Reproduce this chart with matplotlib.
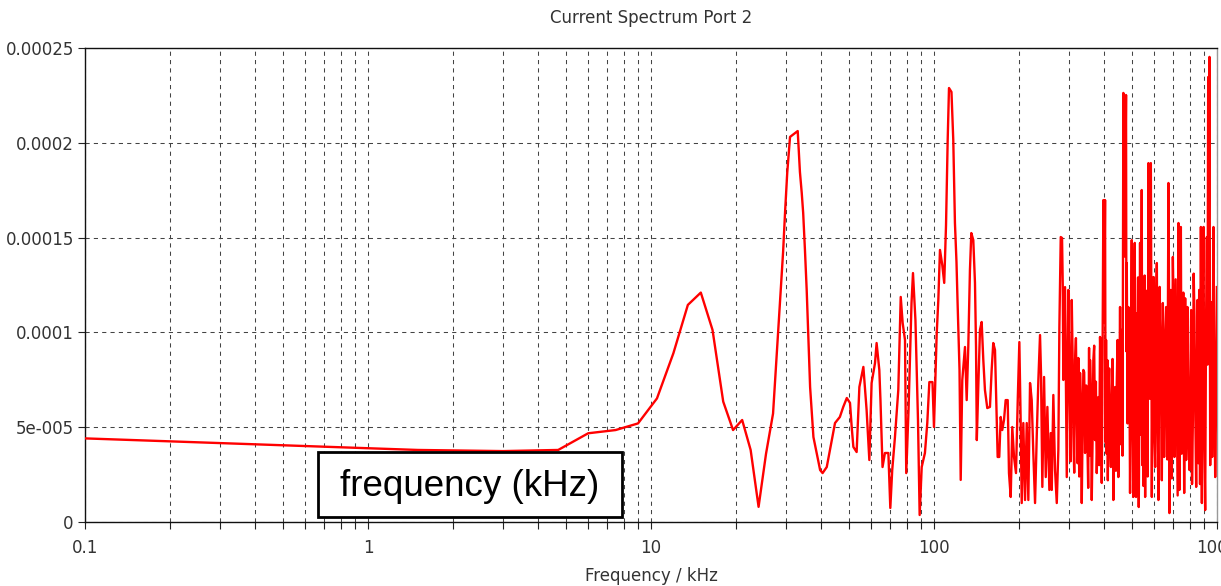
import numpy as np
import matplotlib.pyplot as plt
from matplotlib.patches import Rectangle
from matplotlib.ticker import FixedLocator, FixedFormatter, LogLocator, NullFormatter, NullLocator

# frequency in kHz, current amplitude in units of 1e-5
freq_low = [0.1, 1.0, 1.5, 3.0, 4.7, 6.0, 7.5, 9.0, 10.5, 12.0,
            13.5, 15.0, 16.5, 18.0, 19.5, 21.0, 22.5, 24.0, 25.5, 27.0,
            28.6, 29.3, 29.8, 30.3, 31.0, 33.0, 33.6, 34.1, 34.5, 35.0,
            35.5, 36.0, 36.5, 37.0, 37.5, 38.5, 39.6, 40.4, 41.8, 42.9,
            44.7, 46.5, 47.8, 49.2, 50.5, 51.2, 51.9, 53.3, 54.5, 56.3,
            57.8, 59.1]
amp_low = [4.41, 3.89, 3.80, 3.74, 3.80, 4.68, 4.85, 5.20, 6.52, 8.90,
           11.45, 12.10, 10.13, 6.35, 4.85, 5.38, 3.80, 0.80, 3.60, 5.72,
           11.71, 14.24, 16.46, 18.41, 20.31, 20.62, 18.46, 17.35, 16.30, 14.35,
           12.24, 9.60, 7.12, 5.75, 4.48, 3.64, 2.74, 2.58, 2.90, 3.80,
           5.22, 5.54, 6.07, 6.54, 6.28, 5.01, 3.96, 3.69, 7.12, 8.18,
           5.91, 3.27]

freq_mid = [60.2, 61.9, 62.7, 64.1, 64.7, 65.8, 67.1, 69.0, 70.1, 71.2,
            72.8, 74.8, 76.3, 77.5, 79.0, 79.8, 81.3, 83.3, 84.3, 86.0,
            87.8, 89.0, 90.5, 92.9, 94.7, 96.3, 98.8, 100.0, 102.2, 103.6,
            105.0, 107.0, 108.7, 110.3, 111.8, 113.0, 115.3, 117.0, 118.6, 120.1,
            121.1, 123.1, 124.3, 125.9, 128.7, 130.5, 132.2, 134.0, 135.5, 137.7,
            139.6, 140.8, 141.7, 143.4, 145.4, 147.4, 149.4, 151.4, 154.3, 157.7,
            159.9, 162.0, 164.3, 166.6, 167.9, 170.1, 172.1, 174.3, 176.8, 179.2,
            182.2, 184.1, 186.7, 189.1, 191.8, 194.9, 197.7, 200.3, 202.5, 204.2,
            206.9, 209.8, 212.7, 215.5, 218.5, 221.5, 224.4, 227.6, 230.7, 233.8,
            237.0, 238.9, 241.5, 244.9, 248.3, 251.6, 255.7, 258.6, 260.7, 264.1,
            267.8, 271.6, 275.1, 277.4, 280.5, 283.5, 285.2, 286.5, 290.5, 294.6,
            298.4]
amp_mid = [7.33, 8.39, 9.44, 8.02, 6.43, 2.90, 3.64, 3.64, 0.74, 2.74,
           4.48, 6.96, 11.87, 10.50, 9.60, 2.58, 5.91, 11.55, 13.13, 10.65,
           5.38, 0.37, 2.90, 3.64, 5.22, 7.38, 7.38, 5.01, 9.86, 11.71,
           14.35, 13.55, 12.61, 15.66, 20.15, 22.89, 22.68, 20.15, 15.77, 13.71,
           11.71, 8.02, 2.22, 7.49, 9.23, 6.43, 9.23, 13.29, 15.24, 14.87,
           12.61, 9.23, 4.32, 7.12, 10.13, 10.55, 8.54, 6.96, 6.01, 6.07,
           8.02, 9.44, 9.07, 5.54, 3.43, 3.43, 5.54, 4.85, 5.38, 6.43,
           6.43, 2.58, 1.32, 5.01, 3.43, 2.58, 6.43, 9.49, 5.22, 1.00,
           5.22, 1.16, 5.22, 1.16, 7.33, 6.43, 3.64, 1.00, 4.48, 7.49,
           9.86, 7.86, 1.85, 7.65, 2.37, 6.07, 1.69, 4.69, 1.69, 6.70,
           2.74, 1.00, 3.80, 10.28, 15.03, 14.98, 12.39, 7.49, 12.39, 2.37,
           12.24]

# peaks and troughs above 300 kHz
freq_high = [300.9, 306.8, 310.8, 315.2, 319.5, 323.7, 328.2, 332.8, 337.2, 341.9,
             348.3, 353.2, 356.0, 361.0, 365.7, 370.8, 376.0, 380.9, 386.2, 391.6,
             396.8, 402.3, 405.6, 409.9, 413.2, 419.0, 424.8, 430.4, 436.4, 442.5,
             448.3, 454.5, 460.8, 466.9, 477.2, 480.0, 486.2, 493.0, 499.9, 506.4,
             512.2, 517.6, 523.2, 529.2, 534.8, 542.2, 546.6, 552.9, 557.4, 565.2,
             572.6, 583.9, 588.6, 596.3, 604.6, 613.1, 621.1, 633.3, 643.7, 650.7,
             661.4, 673.8, 679.3, 687.1, 698.4, 707.6, 721.5, 731.0, 736.9, 745.4,
             755.1, 765.8, 778.3, 786.6, 799.5, 810.7, 822.0, 832.7, 844.3, 853.3,
             865.2, 877.3, 884.4, 896.0, 908.5, 921.2, 931.0, 940.9, 951.7, 961.8,
             972.0, 985.6, 999.2]
amp_high = [7.86, 11.71, 4.69, 8.54, 5.91, 8.65, 7.86, 1.00, 8.02, 3.64,
            4.32, 9.18, 8.54, 1.16, 8.54, 4.32, 2.58, 6.59, 9.76, 2.06,
            16.98, 16.98, 9.60, 8.54, 6.43, 3.96, 6.43, 1.16, 7.12, 7.33,
            2.37, 11.34, 10.13, 22.63, 22.52, 13.66, 11.34, 1.53, 14.87, 1.32,
            14.72, 1.32, 7.86, 0.79, 14.72, 17.51, 7.33, 11.71, 1.32, 8.39,
            18.93, 18.93, 1.32, 12.92, 2.90, 13.66, 1.16, 8.70, 11.55, 3.43,
            11.34, 17.88, 0.47, 12.24, 13.98, 3.43, 5.75, 15.77, 1.69, 15.56,
            10.13, 1.53, 3.27, 11.34, 2.74, 11.18, 5.38, 10.81, 1.85, 11.71,
            12.24, 15.56, 1.00, 15.56, 0.63, 15.03, 23.47, 24.53, 7.65, 3.43,
            15.56, 2.37, 12.39]

# samples inside the dense band between those peaks
freq_band = [303.9, 308.8, 313.0, 317.4, 321.6, 326.0, 330.5, 335.0, 339.5, 345.1,
             350.7, 354.6, 358.5, 363.3, 368.2, 373.4, 378.4, 383.5, 388.9, 394.2,
             399.5, 404.0, 407.7, 411.5, 416.1, 421.9, 427.6, 433.4, 439.4, 445.4,
             451.4, 457.6, 463.8, 472.0, 478.6, 483.1, 489.6, 496.4, 503.1, 509.3,
             514.9, 520.4, 526.2, 532.0, 538.5, 544.4, 549.7, 555.1, 561.3, 568.9,
             578.2, 586.2, 592.4, 600.4, 608.8, 617.1, 627.2, 638.5, 647.2, 656.0,
             667.6, 676.5, 683.2, 692.7, 703.0, 714.5, 726.2, 733.9, 741.1, 750.2,
             760.4, 772.0, 782.4, 793.0, 805.1, 816.3, 827.3, 838.5, 848.8, 859.2,
             871.2, 880.8, 890.2, 902.2, 914.8, 926.1, 935.9, 946.3, 956.7, 966.9,
             978.8, 992.4]
amp_band = [3.2, 8.9, 2.6, 9.7, 3.1, 2.4, 6.3, 4.8, 7.9, 7.2,
            1.8, 3.5, 6.8, 4.1, 9.3, 7.4, 4.4, 3.0, 7.6, 8.8,
            10.5, 4.2, 3.6, 2.2, 8.1, 2.9, 8.6, 5.0, 2.7, 9.6,
            6.0, 4.1, 3.5, 14.0, 9.0, 5.2, 10.5, 8.7, 5.4, 12.6,
            4.0, 11.0, 12.9, 6.0, 4.6, 3.0, 1.9, 13.0, 12.2, 2.4,
            6.5, 11.5, 9.9, 4.6, 11.2, 4.9, 12.4, 2.2, 10.0, 7.9,
            3.3, 12.7, 9.1, 2.3, 10.9, 12.8, 1.4, 9.4, 10.7, 3.6,
            12.1, 11.8, 8.2, 4.7, 7.3, 2.0, 13.1, 5.7, 6.6, 3.1,
            2.0, 9.0, 11.9, 4.4, 10.3, 8.3, 16.0, 3.0, 11.6, 9.4,
            7.5, 6.0]

x_ticks = [0.1, 1, 10, 100, 1000]
x_ticklabels = ["0.1", "1", "10", "100", "1000"]
y_ticks = [0, 5e-5, 1e-4, 1.5e-4, 2e-4, 2.5e-4]
y_ticklabels = ["0", "5e-005", "0.0001", "0.00015", "0.0002", "0.00025"]

freq = np.concatenate([freq_low, freq_mid, freq_high, freq_band])
amp = np.concatenate([amp_low, amp_mid, amp_high, amp_band]) * 1e-5
order = np.argsort(freq, kind="stable")
freq, amp = freq[order], amp[order]

txt = "#333333"
fig = plt.figure(figsize=(12.21, 5.86), dpi=100)
ax = fig.add_axes([0.0696, 0.1092, 0.9271, 0.8089])

ax.plot(freq, amp, color="#ff0000", linewidth=1.7, zorder=3)

ax.set_xscale("log")
ax.set_xlim(0.1, 1000)
ax.set_ylim(0, 2.5e-4)

ax.xaxis.set_major_locator(FixedLocator(x_ticks))
ax.xaxis.set_major_formatter(FixedFormatter(x_ticklabels))
ax.xaxis.set_minor_locator(LogLocator(base=10, subs=np.arange(2, 10)))
ax.xaxis.set_minor_formatter(NullFormatter())
ax.yaxis.set_major_locator(FixedLocator(y_ticks))
ax.yaxis.set_major_formatter(FixedFormatter(y_ticklabels))
ax.yaxis.set_minor_locator(NullLocator())

grid_style = dict(color="#444444", linestyle=(0, (4, 4)), linewidth=0.75)
ax.grid(True, which="major", **grid_style)
ax.grid(True, which="minor", axis="x", **grid_style)

ax.tick_params(axis="both", which="both", direction="out", length=5, width=0.8,
               color="#222222", labelcolor=txt, labelsize=12)
ax.tick_params(axis="x", which="both", pad=7)
ax.tick_params(axis="y", pad=3)
for side in ax.spines.values():
    side.set_linewidth(1.0)
    side.set_color("#111111")
ax.spines["right"].set_color("#999999")

fig.text(651 / 1221, 1 - 18 / 586, "Current Spectrum Port 2", ha="center", va="center",
         fontsize=12, color=txt)
fig.text(651 / 1221, 1 - 576 / 586, "Frequency / kHz", ha="center", va="center",
         fontsize=12, color=txt)

# annotation box laid over the plot
fig.add_artist(Rectangle((318 / 1221, 1 - 517 / 586), 304 / 1221, 65 / 586,
                         transform=fig.transFigure, facecolor="white",
                         edgecolor="black", linewidth=2.0, zorder=5))
fig.text(470 / 1221, 1 - 486 / 586, "frequency (kHz)", ha="center", va="center",
         fontsize=26.5, family="Liberation Sans", color="black", zorder=6)

fig.savefig("out.png", dpi=100)
